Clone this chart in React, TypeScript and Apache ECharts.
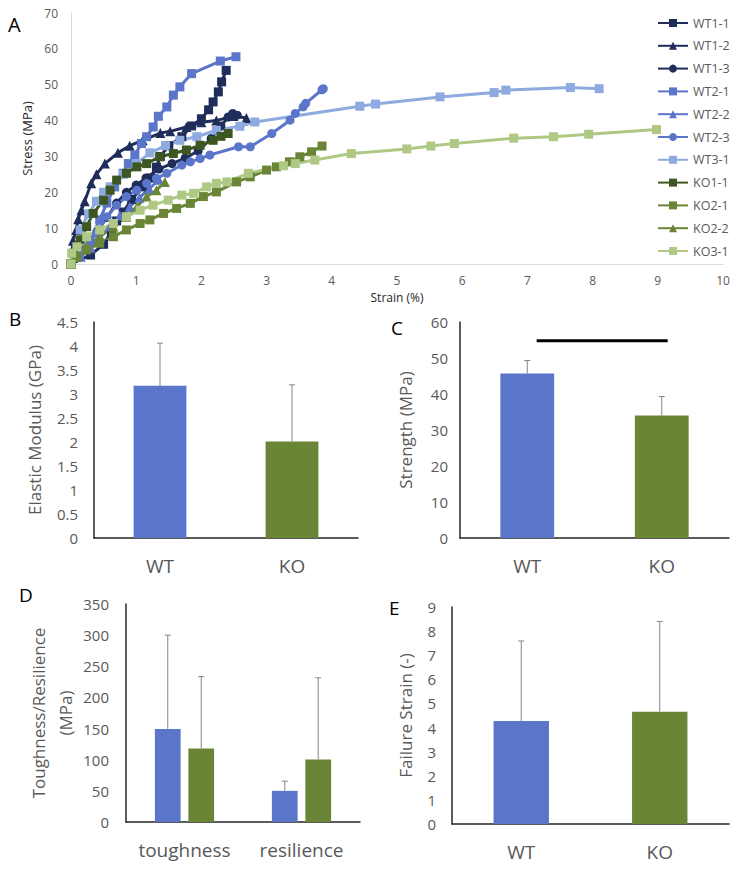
import React, { useEffect, useRef } from 'react';
import * as echarts from 'echarts';

const FONT = '"Open Sans", "Noto Sans", sans-serif';

// ---- Panel A: stress-strain curves [strain %, stress MPa] ----
const WT1_1 = [[0,0],[0.3,2.5],[0.5,5.5],[0.62,9],[0.7,12],[0.8,14.5],[0.93,18],[1.1,21.5],[1.22,24],[1.31,27],[1.37,30],[1.5,33],[1.7,35.5],[1.85,38.5],[2.0,40.5],[2.11,43],[2.18,45.2],[2.26,48],[2.31,50.8],[2.38,54]];
const WT1_2 = [[0,0],[0.03,6.5],[0.08,9.5],[0.11,12.5],[0.16,15],[0.21,17.5],[0.31,22.5],[0.39,25],[0.52,28],[0.72,31],[0.9,33],[1.1,34.5],[1.37,36.5],[1.52,37],[1.77,38.2],[2.0,39.5],[2.23,40],[2.49,41.3],[2.69,40.7]];
const WT1_3 = [[0,0],[0.2,4],[0.4,9],[0.55,13],[0.7,17],[0.85,20],[1.0,22],[1.15,24],[1.35,26.5],[1.55,28],[1.75,29.5],[1.95,31.5],[2.15,35],[2.3,38.5],[2.41,41],[2.48,42],[2.55,41.5]];
const WT2_1 = [[0,0],[0.09,2],[0.29,6.7],[0.44,12.3],[0.55,17],[0.67,21.5],[0.8,25.3],[0.88,28],[0.98,30.4],[1.08,33.6],[1.16,35.5],[1.26,38.2],[1.34,41.2],[1.47,43.8],[1.57,47.1],[1.67,49.4],[1.85,53.1],[2.29,56.6],[2.53,57.8]];
const WT2_2 = [[0,0],[0.15,2],[0.3,4.5],[0.45,7.5],[0.6,10.5],[0.75,13.5],[0.9,16],[1.05,18.5],[1.2,21],[1.35,23.5]];
const WT2_3 = [[0,0],[0.19,3.9],[0.39,8.6],[0.55,13.2],[0.7,16.4],[0.85,18.8],[1.01,20.6],[1.16,22.5],[1.31,23.9],[1.47,25.3],[1.7,27.6],[1.83,28.5],[1.98,29.4],[2.13,30.4],[2.57,32.7],[2.75,32.7],[3.08,36.4],[3.36,40.1],[3.44,42],[3.56,43.8],[3.6,44.8],[3.85,48.6],[3.87,48.9]];
const WT3_1 = [[0,0],[0.05,3],[0.14,9.5],[0.27,14],[0.39,17.5],[0.5,20],[0.6,21.5],[0.8,25],[1.0,28],[1.21,31],[1.45,33],[1.67,34.5],[1.93,35.5],[2.23,37.3],[2.59,38.4],[2.82,39.6],[4.43,44],[4.67,44.6],[5.66,46.6],[6.49,47.8],[6.67,48.5],[7.66,49.2],[8.1,48.9]];
const KO1_1 = [[0,0],[0.04,3],[0.14,6.7],[0.24,10.4],[0.34,14.1],[0.5,17.8],[0.6,20.6],[0.7,23.4],[0.85,25.3],[1.01,27.1],[1.16,28],[1.36,29.9],[1.57,30.8],[1.77,31.8],[1.98,33.1],[2.18,34.5],[2.3,35.6],[2.41,36.4]];
const KO2_1 = [[0,0],[0.09,2],[0.24,3.9],[0.44,5.8],[0.65,7.6],[0.85,9.5],[1.06,11.3],[1.21,12.3],[1.42,14.1],[1.62,15.5],[1.83,16.9],[2.03,18.8],[2.23,20.1],[2.54,22.9],[2.75,24.3],[3.0,26.2],[3.15,27.1],[3.35,28.5],[3.51,29.9],[3.69,31.3],[3.85,32.9]];
const KO2_2 = [[0,0],[0.09,2],[0.24,4.8],[0.44,7.6],[0.65,10.4],[0.85,13.2],[1.01,16],[1.16,18.8],[1.31,20.6],[1.44,22.9]];
const KO3_1 = [[0,0],[0.01,3],[0.09,4.8],[0.24,7.6],[0.44,9.5],[0.65,11.3],[0.85,13.2],[1.06,15],[1.26,16.4],[1.49,17.8],[1.7,19.2],[1.88,19.7],[2.08,21.5],[2.23,22.5],[2.39,22.9],[2.72,25.3],[3.26,27.4],[3.44,28],[3.74,29],[4.3,30.8],[5.15,32.1],[5.52,32.9],[5.88,33.6],[6.79,35.1],[7.4,35.5],[7.94,36.2],[8.98,37.5]];

const curveNames = ['WT1-1','WT1-2','WT1-3','WT2-1','WT2-2','WT2-3','WT3-1','KO1-1','KO2-1','KO2-2','KO3-1'];
const curveData = [WT1_1, WT1_2, WT1_3, WT2_1, WT2_2, WT2_3, WT3_1, KO1_1, KO2_1, KO2_2, KO3_1];
const curveSymbols = ['rect','triangle','circle','rect','triangle','circle','rect','rect','rect','triangle','rect'];

// ---- Bar panels ----
const groups = ['WT', 'KO'];
const modulusMean = [3.17, 2.01];
const modulusErr = [0.89, 1.18];
const strengthMean = [45.7, 34.0];
const strengthErr = [3.6, 5.3];
const sigLine = [[0.57, 54.8], [1.544, 54.8]];
const toughCategories = ['toughness', 'resilience'];
const toughWT = [149.5, 50];
const toughWTErr = [150.5, 15.5];
const toughKO = [118, 100.5];
const toughKOErr = [115.5, 131];
const failMean = [4.27, 4.66];
const failErr = [3.32, 3.74];

const C_NAVY = '#1f2d5a';
const C_BLUE = '#5a75c9';
const C_LBLUE = '#8eaadf';
const C_DOLIVE = '#3e5722';
const C_OLIVE = '#6b8536';
const C_LGREEN = '#afc985';
const curveColors = [C_NAVY, C_NAVY, C_NAVY, C_BLUE, C_BLUE, C_BLUE, C_LBLUE, C_DOLIVE, C_OLIVE, C_OLIVE, C_LGREEN];
const barColors = [C_BLUE, C_OLIVE];

const GRAY = '#595959';

function errSeries(xAxisIndex: number, yAxisIndex: number, means: number[], errs: number[], offsetFrac: number) {
  return {
    type: 'custom',
    xAxisIndex, yAxisIndex,
    z: 5,
    silent: true,
    data: means.map((m, i) => [i, m, errs[i]]),
    encode: { x: 0, y: 1 },
    renderItem: (params: any, api: any) => {
      const i = api.value(0);
      const v = api.value(1);
      const e = api.value(2);
      const band = api.size([1, 0])[0];
      const base = api.coord([i, v]);
      const top = api.coord([i, v + e]);
      const x = base[0] + band * offsetFrac;
      const style = { stroke: '#858585', lineWidth: 1 };
      return {
        type: 'group',
        children: [
          { type: 'line', shape: { x1: x, y1: base[1], x2: x, y2: top[1] }, style },
          { type: 'line', shape: { x1: x - 3, y1: top[1], x2: x + 3, y2: top[1] }, style },
        ],
      };
    },
  };
}

function barAxisX(gridIndex: number, data: string[]) {
  return {
    type: 'category', gridIndex, data,
    axisLine: { lineStyle: { color: '#262626', width: 1.5 } },
    axisTick: { show: false },
    axisLabel: { color: GRAY, fontSize: 19, fontFamily: FONT, margin: 18, interval: 0 },
  };
}

function barAxisY(gridIndex: number, max: number, interval: number, name: string, nameGap: number, margin: number) {
  return {
    type: 'value', gridIndex, min: 0, max, interval,
    name, nameLocation: 'middle', nameGap,
    nameTextStyle: { color: GRAY, fontSize: 17, fontFamily: FONT, lineHeight: 27 },
    axisLine: { show: true, lineStyle: { color: '#262626', width: 1.5 } },
    axisTick: { show: false },
    splitLine: { show: false },
    axisLabel: { color: GRAY, fontSize: 15, fontFamily: FONT, margin },
  };
}

export default function App() {
  const ref = useRef<HTMLDivElement>(null);
  useEffect(() => {
    if (!ref.current) return;
    const chart = echarts.init(ref.current, undefined, { renderer: 'svg' });

    const lineSeries = curveNames.map((name, k) => ({
      name, type: 'line', xAxisIndex: 0, yAxisIndex: 0,
      data: curveData[k],
      symbol: curveSymbols[k],
      symbolSize: curveSymbols[k] === 'triangle' ? 10 : 9,
      showSymbol: true,
      lineStyle: { color: curveColors[k], width: 3 },
      itemStyle: { color: curveColors[k] },
      emphasis: { disabled: true },
    }));

    const option: any = {
      animation: false,
      textStyle: { fontFamily: FONT },
      grid: [
        { left: 71, top: 13, width: 652, height: 251 },
        { left: 94, top: 322, width: 264, height: 216 },
        { left: 460, top: 322, width: 269, height: 216 },
        { left: 126, top: 604, width: 234, height: 218 },
        { left: 452, top: 607, width: 277, height: 217 },
      ],
      legend: {
        orient: 'vertical', left: 652, top: 11,
        itemWidth: 30, itemHeight: 10, itemGap: 8.8,
        data: curveNames,
        textStyle: { color: GRAY, fontSize: 12.5, fontFamily: FONT, lineHeight: 14 },
        selectedMode: false,
      },
      xAxis: [
        {
          type: 'value', gridIndex: 0, min: 0, max: 10, interval: 1,
          name: 'Strain (%)', nameLocation: 'middle', nameGap: 27,
          nameTextStyle: { color: '#262626', fontSize: 12, fontFamily: FONT },
          axisLine: { lineStyle: { color: '#d9d9d9' } },
          axisTick: { show: false },
          splitLine: { show: false },
          axisLabel: { color: GRAY, fontSize: 12, fontFamily: FONT, margin: 10 },
        },
        barAxisX(1, groups),
        barAxisX(2, groups),
        barAxisX(3, toughCategories),
        barAxisX(4, groups),
        { type: 'value', gridIndex: 2, min: 0, max: 2, show: false },
      ],
      yAxis: [
        {
          type: 'value', gridIndex: 0, min: 0, max: 70, interval: 10,
          name: 'Stress (MPa)', nameLocation: 'middle', nameGap: 31,
          nameTextStyle: { color: '#262626', fontSize: 13, fontFamily: FONT },
          axisLine: { show: true, lineStyle: { color: '#d9d9d9' } },
          axisTick: { show: false },
          splitLine: { show: false },
          axisLabel: { color: GRAY, fontSize: 12, fontFamily: FONT, margin: 13 },
        },
        barAxisY(1, 4.5, 0.5, 'Elastic Modulus (GPa)', 46, 16),
        barAxisY(2, 60, 10, 'Strength (MPa)', 41, 12),
        barAxisY(3, 350, 50, 'Toughness/Resilience\n(MPa)', 47, 17),
        barAxisY(4, 9, 1, 'Failure Strain (-)', 33, 16),
      ],
      series: [
        ...lineSeries,
        {
          type: 'bar', xAxisIndex: 1, yAxisIndex: 1, barWidth: '40%',
          data: modulusMean.map((v, i) => ({ value: v, itemStyle: { color: barColors[i] } })),
        },
        errSeries(1, 1, modulusMean, modulusErr, 0),
        {
          type: 'bar', xAxisIndex: 2, yAxisIndex: 2, barWidth: '40%',
          data: strengthMean.map((v, i) => ({ value: v, itemStyle: { color: barColors[i] } })),
        },
        errSeries(2, 2, strengthMean, strengthErr, 0),
        {
          type: 'line', xAxisIndex: 5, yAxisIndex: 2, data: sigLine,
          symbol: 'none', lineStyle: { color: '#000', width: 3 }, silent: true,
        },
        {
          type: 'bar', xAxisIndex: 3, yAxisIndex: 3, barWidth: '22%', barGap: '30%',
          data: toughWT, itemStyle: { color: C_BLUE },
        },
        {
          type: 'bar', xAxisIndex: 3, yAxisIndex: 3, barWidth: '22%', barGap: '30%',
          data: toughKO, itemStyle: { color: C_OLIVE },
        },
        errSeries(3, 3, toughWT, toughWTErr, -0.143),
        errSeries(3, 3, toughKO, toughKOErr, 0.143),
        {
          type: 'bar', xAxisIndex: 4, yAxisIndex: 4, barWidth: '40%',
          data: failMean.map((v, i) => ({ value: v, itemStyle: { color: barColors[i] } })),
        },
        errSeries(4, 4, failMean, failErr, 0),
      ],
      graphic: [
        { type: 'text', left: 8, top: 14, style: { text: 'A', fontSize: 20, fill: '#000', fontFamily: FONT } },
        { type: 'text', left: 9, top: 309, style: { text: 'B', fontSize: 19, fill: '#000', fontFamily: FONT } },
        { type: 'text', left: 391, top: 318, style: { text: 'C', fontSize: 19, fill: '#000', fontFamily: FONT } },
        { type: 'text', left: 19, top: 585, style: { text: 'D', fontSize: 19, fill: '#000', fontFamily: FONT } },
        { type: 'text', left: 389, top: 598, style: { text: 'E', fontSize: 19, fill: '#000', fontFamily: FONT } },
      ],
    };
    chart.setOption(option);
    return () => chart.dispose();
  }, []);
  return <div ref={ref} style={{ position: 'absolute', left: 0, top: 0, width: 740, height: 869, background: '#fff' }} />;
}
